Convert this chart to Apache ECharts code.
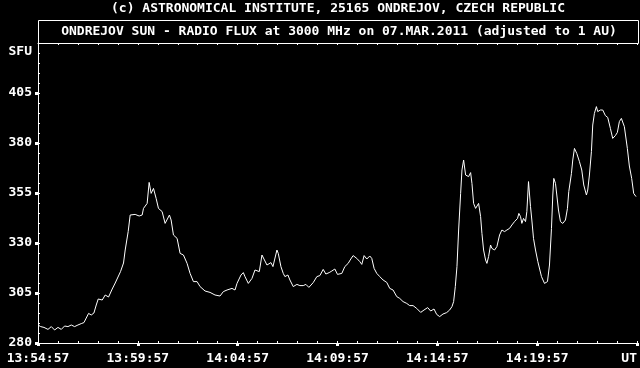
<!DOCTYPE html>
<html>
<head>
<meta charset="utf-8">
<script src="https://cdn.jsdelivr.net/npm/echarts@6/dist/echarts.min.js"></script>
<style>
html,body{margin:0;padding:0;background:#000;}
#chart{width:640px;height:368px;}
</style>
</head>
<body>
<div id="chart"></div>
<script>
// Seconds after 13:54:57 UT
const times = [0,8,18,30,40,50,60,70,80,90,100,110,120,130,138,143,152,160,168,175,181,193,202,212,223,232,248,257,262,271,277,283,292,304,313,317,328,334,340,347,355,362,373,382,388,395,400,407,418,427,437,448,457,467,478,487,502,517,532,547,557,568,583,592,598,604,610,617,622,632,643,652,658,665,673,679,688,692,700,706,710,718,722,730,737,742,751,757,767,778,787,797,805,814,827,838,847,857,865,875,883,892,900,913,922,932,940,947,958,967,973,980,988,997,1003,1010,1018,1027,1037,1048,1057,1067,1078,1087,1097,1108,1117,1127,1138,1150,1160,1171,1180,1190,1198,1207,1217,1228,1237,1244,1249,1254,1259,1264,1270,1274,1279,1285,1289,1294,1300,1304,1309,1315,1319,1324,1330,1334,1339,1345,1349,1354,1360,1364,1372,1379,1387,1394,1402,1409,1417,1424,1432,1441,1445,1450,1454,1459,1465,1469,1474,1480,1484,1489,1495,1502,1513,1522,1531,1537,1543,1547,1550,1555,1559,1564,1570,1577,1585,1591,1595,1603,1607,1612,1619,1627,1634,1640,1648,1652,1657,1663,1667,1672,1678,1682,1690,1697,1705,1712,1720,1727,1735,1741,1747,1753,1757,1762,1771,1777,1784,1790,1797];
// Radio flux, SFU
const flux = [289,288.2,287.8,286.8,288.2,286.5,287.8,286.8,288.5,288.2,289,288.2,289,289.7,290.2,290.7,294.8,294,295,299,302,301.5,304,303,307,310,315.7,320,326.5,335.7,344,343,344.3,343.5,344,347.3,349.8,360.3,354.8,357.3,352.3,347.3,345.7,339.8,339,344,341.5,334,332.3,324.8,324,319.8,314.8,310.7,310.7,308.2,306,305.3,304,303.5,305.7,306.5,307.3,306.5,309.8,309,314,315.2,313.2,309.8,312.3,316.5,315.7,315.7,324,324.8,319,318.2,320.2,318.2,319,326.5,324.8,318.2,314.8,313.2,314,311.5,308.2,309.3,308.7,308.7,309.3,307.8,310.2,313.2,313.7,316.8,314.5,315.2,316,317,314.3,314.8,318.2,319.8,322,323.7,322.3,320.7,319.3,323.7,322,323.5,322.3,317.3,314.8,313.2,311.5,310.3,307.3,306.5,303.2,302.3,300.7,299.8,298.7,298.7,297.3,295.3,296.5,297.7,296,297,294.3,293.2,294.5,295.2,296.5,298.2,300.7,308.2,318.2,336.5,354.8,366.5,371.5,364,364.8,363.2,365.2,359.8,349.8,347.3,348.2,349.8,343.2,334.8,326.5,321.5,319.8,323.2,329,327.3,326.5,328.2,334,336.5,335.7,336.5,337.3,339,340.7,342.3,344.8,343.2,339.8,342.3,340.7,345.7,360.7,348.2,341.5,332.3,326.5,320.7,313.2,309.8,310.7,319,337.3,354,362.3,359.8,354,346.5,340.7,339.8,341.5,347.3,355.7,364.8,371.5,377.3,374.8,370.7,366.5,359,354,356.5,364,375.7,389,394.8,398.2,395.7,396.5,396.5,393.7,392.8,387.3,382.3,383.7,385.3,390.7,392.3,393.2,388.2,377.3,368.5,362.3,354.8,353.2];
const xTickLabels = ['13:54:57','13:59:57','14:04:57','14:09:57','14:14:57','14:19:57','UT'];
const yTickValues = [280,305,330,355,380,405];
const titleTop = '(c) ASTRONOMICAL INSTITUTE, 25165 ONDREJOV, CZECH REPUBLIC';
const titleMain = 'ONDREJOV SUN - RADIO FLUX at 3000 MHz on 07.MAR.2011 (adjusted to 1 AU)';
const yUnit = 'SFU';

const FONT = '"DejaVu Sans Mono", "Liberation Mono", monospace';
const W = '#ffffff';
const chart = echarts.init(document.getElementById('chart'), null, {renderer: 'canvas'});
const data = times.map((t, i) => [t, flux[i]]);

chart.setOption({
  backgroundColor: '#000',
  animation: false,
  textStyle: {fontFamily: FONT, color: W},
  grid: {left: 38, right: 2, top: 43, bottom: 25, containLabel: false},
  xAxis: [
    {
      type: 'value', min: 0, max: 1800, interval: 300, position: 'bottom',
      axisLine: {show: true, lineStyle: {color: W, width: 1}},
      axisTick: {show: true, inside: false, length: 3, lineStyle: {color: W, width: 3}},
      axisLabel: {
        show: true, color: W, fontFamily: FONT, fontSize: 13, fontWeight: 'bold', margin: 9,
        alignMaxLabel: 'right',
        formatter: v => xTickLabels[Math.round(v / 300)] || ''
      },
      splitLine: {show: false}
    },
    {
      type: 'value', min: 0, max: 1800, interval: 60, position: 'bottom',
      axisLine: {show: false},
      axisTick: {show: true, inside: true, length: 2, lineStyle: {color: W, width: 1}},
      axisLabel: {show: false}, splitLine: {show: false}
    },
    {
      type: 'value', min: 0, max: 1800, interval: 60, position: 'top',
      axisLine: {show: true, lineStyle: {color: W, width: 1}},
      axisTick: {show: true, inside: true, length: 2, lineStyle: {color: W, width: 1}},
      axisLabel: {show: false}, splitLine: {show: false}
    }
  ],
  yAxis: [
    {
      type: 'value', min: 280, max: 430, interval: 25, position: 'left',
      axisLine: {show: true, lineStyle: {color: W, width: 1}},
      axisTick: {show: true, inside: false, length: 3, customValues: yTickValues, lineStyle: {color: W, width: 3}},
      axisLabel: {
        show: true, color: W, fontFamily: FONT, fontSize: 13, fontWeight: 'bold', margin: 6,
        customValues: yTickValues,
        formatter: v => String(v)
      },
      splitLine: {show: false}
    },
    {
      type: 'value', min: 280, max: 430, interval: 5, position: 'left', offset: 0,
      axisLine: {show: false},
      axisTick: {show: true, inside: true, length: 2, lineStyle: {color: W, width: 1}},
      axisLabel: {show: false}, splitLine: {show: false}
    },
    {
      type: 'value', min: 280, max: 430, interval: 25, position: 'right',
      axisLine: {show: true, lineStyle: {color: W, width: 1}},
      axisTick: {show: false}, axisLabel: {show: false}, splitLine: {show: false}
    }
  ],
  series: [{
    type: 'line', xAxisIndex: 0, yAxisIndex: 0, data: data,
    showSymbol: false, symbol: 'none', smooth: false,
    lineStyle: {color: W, width: 1}, clip: true
  }],
  graphic: [
    {type: 'rect', silent: true, shape: {x: 38.5, y: 20.5, width: 600, height: 23},
     style: {fill: 'none', stroke: W, lineWidth: 1}},
    {type: 'text', silent: true, x: 338, y: 9,
     style: {text: titleTop, fill: W, font: 'bold 13px ' + FONT, textAlign: 'center', textVerticalAlign: 'middle'}},
    {type: 'text', silent: true, x: 339, y: 32,
     style: {text: titleMain, fill: W, font: 'bold 13px ' + FONT, textAlign: 'center', textVerticalAlign: 'middle'}},
    {type: 'text', silent: true, x: 32, y: 52,
     style: {text: yUnit, fill: W, font: 'bold 13px ' + FONT, textAlign: 'right', textVerticalAlign: 'middle'}}
  ]
});
</script>
</body>
</html>
